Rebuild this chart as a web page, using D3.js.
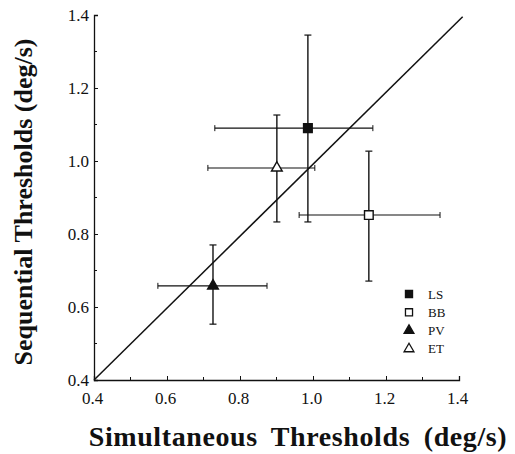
<!DOCTYPE html>
<html><head><meta charset="utf-8">
<script src="https://cdn.jsdelivr.net/npm/d3@7"></script>
<style>body{margin:0;background:#fff}</style>
</head><body>
<svg id="c" width="515" height="454"></svg>
<script>
const subjects = ["LS","BB","PV","ET"];
const symbols = ["square","square","triangle","triangle"];
const filled = [true,false,true,false];
const simX = [0.986,1.153,0.726,0.901];
const simLo = [0.731,0.962,0.575,0.712];
const simHi = [1.164,1.348,0.874,1.005];
const seqY = [1.09,0.852,0.658,0.981];
const seqLo = [0.833,0.671,0.553,0.833];
const seqHi = [1.345,1.027,0.770,1.126];
const tickVals = [0.4,0.6,0.8,1.0,1.2,1.4];
const minorVals = [0.5,0.7,0.9,1.1,1.3];

const svg = d3.select("#c");
const x = d3.scaleLinear().domain([0.4,1.4]).range([94,459]);
const y = d3.scaleLinear().domain([0.4,1.4]).range([380,15]);
const serif = "'Liberation Serif','Times New Roman',serif";
const ink = "#111";

// axes
const xa = svg.append("g").attr("transform","translate(0,380)")
  .call(d3.axisBottom(x).tickValues(tickVals).tickSize(-4).tickPadding(12).tickFormat(d3.format(".1f")));
const ya = svg.append("g").attr("transform","translate(94,0)")
  .call(d3.axisLeft(y).tickValues(tickVals).tickSize(-4).tickPadding(5).tickFormat(d3.format(".1f")));
[xa,ya].forEach(a=>{
  a.select(".domain").attr("stroke",ink).attr("stroke-width",1.3);
  a.selectAll(".tick line").attr("stroke",ink);
  a.selectAll(".tick text").attr("font-family",serif).attr("font-size",17).attr("fill",ink);
});
xa.selectAll(".tick text").attr("dx",-2);
xa.selectAll(".minor").data(minorVals).enter().append("line")
  .attr("x1",d=>x(d)).attr("x2",d=>x(d)).attr("y1",0).attr("y2",-3).attr("stroke",ink);
ya.selectAll(".minor").data(minorVals).enter().append("line")
  .attr("y1",d=>y(d)).attr("y2",d=>y(d)).attr("x1",0).attr("x2",3).attr("stroke",ink);

// identity line
svg.append("line").attr("x1",x(0.4)).attr("y1",y(0.4)).attr("x2",x(1.41)).attr("y2",y(1.395))
  .attr("stroke",ink).attr("stroke-width",1.5);

// error bars
const g = svg.append("g");
subjects.forEach((s,i)=>{
  const cx=x(simX[i]), cy=y(seqY[i]);
  g.append("line").attr("x1",x(simLo[i])).attr("x2",x(simHi[i])).attr("y1",cy).attr("y2",cy).attr("stroke",ink).attr("stroke-width",1.1);
  g.append("line").attr("x1",cx).attr("x2",cx).attr("y1",y(seqLo[i])).attr("y2",y(seqHi[i])).attr("stroke",ink).attr("stroke-width",1.4);
  [simLo[i],simHi[i]].forEach(v=>g.append("line").attr("x1",x(v)).attr("x2",x(v)).attr("y1",cy-3).attr("y2",cy+3).attr("stroke",ink));
  [seqLo[i],seqHi[i]].forEach(v=>g.append("line").attr("x1",cx-3.5).attr("x2",cx+3.5).attr("y1",y(v)).attr("y2",y(v)).attr("stroke",ink).attr("stroke-width",1.2));
});

function sym(i,size){
  return d3.symbol().type(symbols[i]==="square"?d3.symbolSquare:d3.symbolTriangle).size(size)();
}
subjects.forEach((s,i)=>{
  svg.append("path").attr("d",sym(i,symbols[i]==="square"?75:50))
    .attr("transform",`translate(${x(simX[i])},${y(seqY[i])})`)
    .attr("fill",filled[i]?ink:"#fff").attr("stroke",ink).attr("stroke-width",1.4);
});

// legend
const lg = svg.append("g");
subjects.forEach((s,i)=>{
  const ly = 294 + i*18.3;
  lg.append("path").attr("d",sym(i,symbols[i]==="square"?50:42))
    .attr("transform",`translate(409,${ly})`)
    .attr("fill",filled[i]?ink:"#fff").attr("stroke",ink).attr("stroke-width",1.3);
  lg.append("text").attr("x",428).attr("y",ly+4.5).text(s)
    .attr("font-family",serif).attr("font-size",13).attr("fill",ink);
});

// axis titles
svg.append("text").attr("x",298).attr("y",446).attr("text-anchor","middle")
  .attr("font-family",serif).attr("font-weight","bold").attr("font-size",28)
  .attr("letter-spacing",0.6).attr("word-spacing",6).attr("fill",ink)
  .text("Simultaneous Thresholds (deg/s)");
svg.append("text").attr("transform","translate(32,202) rotate(-90)").attr("text-anchor","middle")
  .attr("font-family",serif).attr("font-weight","bold").attr("font-size",26).attr("fill",ink)
  .text("Sequential Thresholds (deg/s)");
</script>
</body></html>
